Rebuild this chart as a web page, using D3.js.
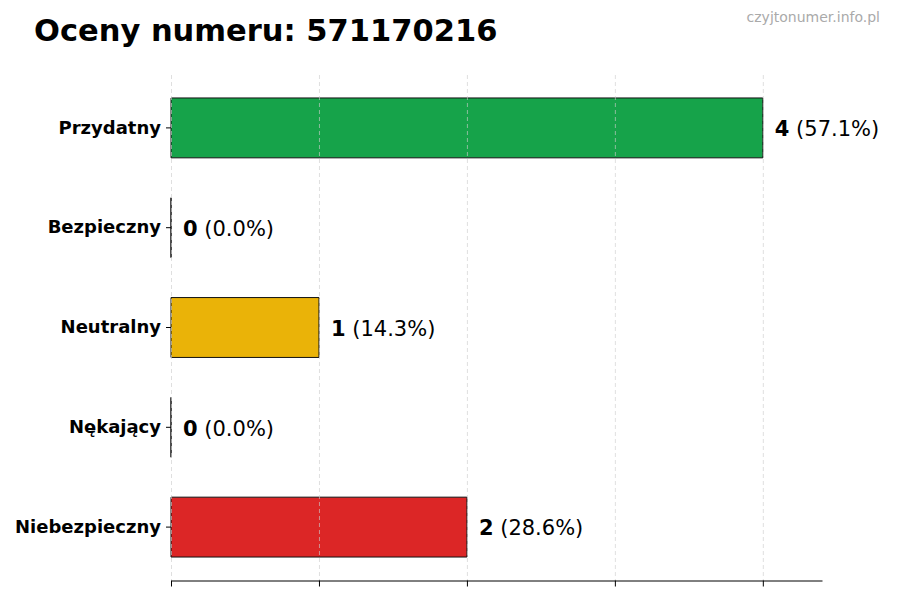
<!DOCTYPE html>
<html>
<head>
<meta charset="utf-8">
<script src="https://cdn.jsdelivr.net/npm/d3@7"></script>
<style>
  body { margin: 0; background: #fff; }
  text { font-family: "DejaVu Sans", sans-serif; }
</style>
</head>
<body>
<svg id="chart" width="900" height="600"></svg>
<script>
var categories = ['Przydatny', 'Bezpieczny', 'Neutralny', 'Nękający', 'Niebezpieczny'];
var counts = [4, 0, 1, 0, 2];
var colors = ['#16a34a', '#8a8a8a', '#eab308', '#f97316', '#dc2626'];
var xTicks = [0, 1, 2, 3, 4];

var total = d3.sum(counts);
var svg = d3.select('#chart');

var x = d3.scaleLinear().domain([0, 4.4]).range([171, 822]);
var y = d3.scaleBand().domain(categories).range([78, 577])
  .paddingInner(0.4).paddingOuter(0.2);

// title + watermark
svg.append('text')
  .attr('x', 34).attr('y', 41)
  .attr('font-size', 30.5).attr('font-weight', 'bold')
  .text('Oceny numeru: 571170216');

svg.append('text')
  .attr('x', 880).attr('y', 22)
  .attr('text-anchor', 'end')
  .attr('font-size', 14).attr('fill', '#aaaaaa')
  .text('czyjtonumer.info.pl');

// bars as paths so zero-width ones still show their outline
svg.selectAll('path.bar')
  .data(categories)
  .enter().append('path')
  .attr('class', 'bar')
  .attr('d', function(d, i) {
    var x0 = x(0), w = x(counts[i]) - x(0), y0 = y(d), h = y.bandwidth();
    return 'M' + x0 + ',' + y0 + 'h' + w + 'v' + h + 'h' + (-w) + 'Z';
  })
  .attr('fill', function(d, i) { return colors[i]; })
  .attr('stroke', '#111')
  .attr('stroke-width', 1);

// grid on top, light dashed
svg.selectAll('line.grid')
  .data(xTicks)
  .enter().append('line')
  .attr('class', 'grid')
  .attr('x1', function(d) { return x(d) + 0.5; })
  .attr('x2', function(d) { return x(d) + 0.5; })
  .attr('y1', 75).attr('y2', 580)
  .attr('stroke', '#cccccc')
  .attr('stroke-opacity', 0.8)
  .attr('stroke-dasharray', '4,3')
  .attr('stroke-width', 0.8);

// bottom axis, no labels
var xAxis = svg.append('g')
  .attr('transform', 'translate(0,580.5)')
  .call(d3.axisBottom(x).tickValues(xTicks).tickFormat('').tickSize(6).tickSizeOuter(0));
xAxis.select('.domain').attr('stroke', '#000');
xAxis.selectAll('.tick line').attr('stroke', '#000');

// left axis: ticks and labels only
var yAxis = svg.append('g')
  .attr('transform', 'translate(171,0)')
  .call(d3.axisLeft(y).tickSize(5).tickPadding(5));
yAxis.select('.domain').remove();
yAxis.selectAll('.tick line').attr('stroke', '#000');
yAxis.selectAll('.tick text')
  .attr('font-family', '"DejaVu Sans", sans-serif')
  .attr('font-size', 18)
  .attr('font-weight', 'bold')
  .attr('fill', '#000');

// value labels
var labels = svg.selectAll('text.val')
  .data(categories)
  .enter().append('text')
  .attr('class', 'val')
  .attr('x', function(d, i) { return x(counts[i]) + 12; })
  .attr('y', function(d) { return y(d) + y.bandwidth() / 2 + 1; })
  .attr('dy', '0.35em')
  .attr('font-size', 21);

labels.append('tspan')
  .attr('font-weight', 'bold')
  .text(function(d, i) { return counts[i]; });
labels.append('tspan')
  .text(function(d, i) { return ' (' + (counts[i] / total * 100).toFixed(1) + '%)'; });
</script>
</body>
</html>
